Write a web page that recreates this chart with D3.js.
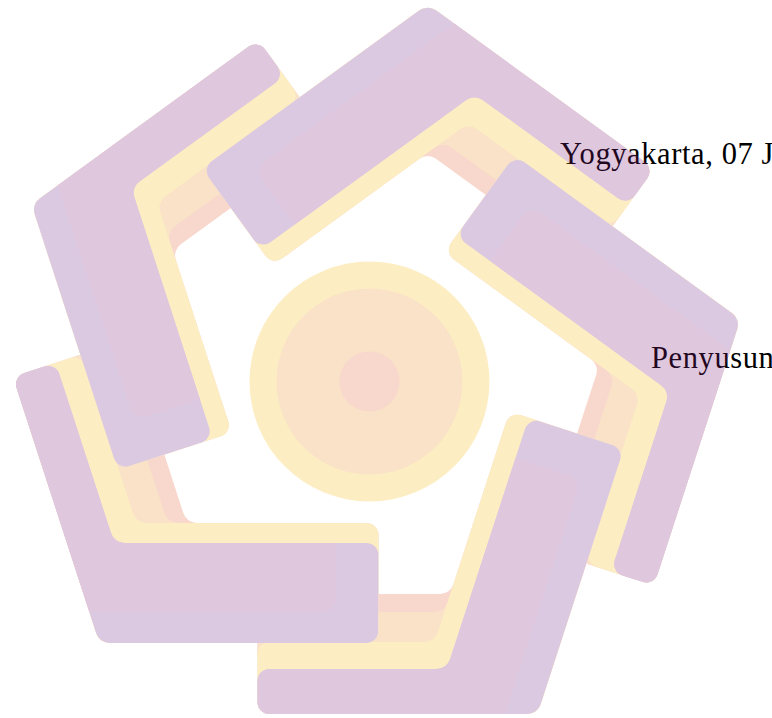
<!DOCTYPE html>
<html>
<head>
<meta charset="utf-8">
<script src="https://cdn.jsdelivr.net/npm/d3@7"></script>
<style>
html, body { margin: 0; padding: 0; background: #fff; }
svg { display: block; }
</style>
</head>
<body>
<div id="viz"></div>
<script>
// Watermark logo (five pinwheel arms + centre disc) behind the signature text

const width = 772;
const height = 718;

// the five arms, each one the same piece turned by these angles.
// each arm lies on top of the one before it; the last one goes under the first
const armRotations = [0, 72, 144, 216, 288];

// colour bands of one arm, bottom to top
const bandNames = ["pink", "peach", "yellow", "purple"];
const leg1Widths = [120, 102, 72, 45];   // long leg (goes under the next arm)
const leg2Widths = [120, 120, 120, 100]; // short leg (lies on top)
const bandColors = ["#e7633b", "#eb8f23", "#f7bb13", "#83237f"];
const purpleEdgeColor = "#732b8b";

// centre disc
const discRadii = [120, 93, 30];
const discBands = ["yellow", "peach", "pink"];

// text lines
const labels = ["Yogyakarta, 07 J", "Penyusun"];

const color = d3.scaleOrdinal().domain(bandNames).range(bandColors);

const svg = d3.select("#viz")
    .append("svg")
    .attr("width", width)
    .attr("height", height);

// text sits under the watermark
svg.append("g")
    .selectAll("text")
    .data(labels)
    .enter().append("text")
    .attr("x", (d, i) => i === 0 ? 560 : 651)
    .attr("y", (d, i) => i === 0 ? 164 : 368)
    .attr("font-family", "'Liberation Serif', 'Times New Roman', serif")
    .attr("font-size", 30.5)
    .attr("letter-spacing", 0.6)
    .attr("fill", "#000")
    .text(d => d);

// ---- geometry of one arm, relative to the logo centre ----
const cx = 367.3, cy = 377;
const discX = 369.5, discY = 381.5;
const outer1 = 337, outer2 = 266;   // distance of the outer edges from the centre
const len1 = 280, len2 = 279;       // leg lengths along the outer edge
const rad = Math.PI / 180;
const u1 = [Math.cos(252 * rad), Math.sin(252 * rad)];
const n1 = [Math.cos(162 * rad), Math.sin(162 * rad)];
const u2 = [1, 0];
const n2 = [0, 1];

function meet(a, s, b, t) {
    const det = a[0] * b[1] - a[1] * b[0];
    return [(s * b[1] - a[1] * t) / det, (a[0] * t - s * b[0]) / det];
}
const add = (p, v, k) => [p[0] + v[0] * k, p[1] + v[1] * k];

const V = meet(n1, outer1, n2, outer2);

function armPoints(w1, w2) {
    const e2o = add(V, u2, len2);
    const e2i = add(e2o, n2, -w2);
    const inner = meet(n1, outer1 - w1, n2, outer2 - w2);
    const e1o = add(V, u1, len1);
    const e1i = add(e1o, n1, -w1);
    return [V, e2o, e2i, inner, e1i, e1o];
}

function roundedPath(pts, radii) {
    const p = d3.path();
    const a = pts[pts.length - 1], b = pts[0];
    p.moveTo((a[0] + b[0]) / 2, (a[1] + b[1]) / 2);
    pts.forEach((q, i) => {
        const nx = pts[(i + 1) % pts.length];
        p.arcTo(q[0], q[1], nx[0], nx[1], radii[i]);
    });
    p.closePath();
    return p.toString();
}

const cornerRadii = [14, 12, 12, 14, 12, 12];

function drawArm(g) {
    bandNames.forEach((name, i) => {
        g.append("path")
            .attr("d", roundedPath(armPoints(leg1Widths[i], leg2Widths[i]), cornerRadii))
            .attr("fill", name === "purple" ? purpleEdgeColor : color(name));
    });
    // pinker middle of the purple band, lilac rim on the outer edge and the end
    const rim = 31, cap = 42;
    const pw1 = leg1Widths[3], pw2 = leg2Widths[3];
    const vIn = meet(n1, outer1, n2, outer2 - rim);
    const e2o = add(add(V, u2, len2 - cap), n2, -rim);
    const e2i = add(add(V, u2, len2 - cap), n2, -pw2);
    const inner = meet(n1, outer1 - pw1, n2, outer2 - pw2);
    const e1o = add(V, u1, len1);
    const e1i = add(e1o, n1, -pw1);
    g.append("path")
        .attr("d", roundedPath([vIn, e2o, e2i, inner, e1i, e1o], [0, 14, 0, 14, 12, 12]))
        .attr("fill", color("purple"));
}

const logo = svg.append("g")
    .attr("opacity", 0.25);

// mask: the last arm must stay under the first arm's outline
const mask = logo.append("defs").append("mask")
    .attr("id", "underFirst")
    .attr("maskUnits", "userSpaceOnUse")
    .attr("maskContentUnits", "userSpaceOnUse")
    .attr("x", -500).attr("y", -500)
    .attr("width", 1000).attr("height", 1000);
mask.append("rect")
    .attr("x", -500).attr("y", -500)
    .attr("width", 1000).attr("height", 1000)
    .attr("fill", "#fff");
mask.append("path")
    .attr("transform", `rotate(${armRotations[0]})`)
    .attr("d", roundedPath(armPoints(120, 120), cornerRadii))
    .attr("fill", "#000");

const arms = logo.append("g")
    .attr("transform", `translate(${cx},${cy})`);
armRotations.forEach((a, i) => {
    const holder = arms.append("g");
    if (i === armRotations.length - 1) holder.attr("mask", "url(#underFirst)");
    drawArm(holder.append("g").attr("transform", `rotate(${a})`));
});

logo.append("g")
    .attr("transform", `translate(${discX},${discY})`)
    .selectAll("circle")
    .data(discRadii)
    .enter().append("circle")
    .attr("r", d => d)
    .attr("fill", (d, i) => color(discBands[i]));
</script>
</body>
</html>
